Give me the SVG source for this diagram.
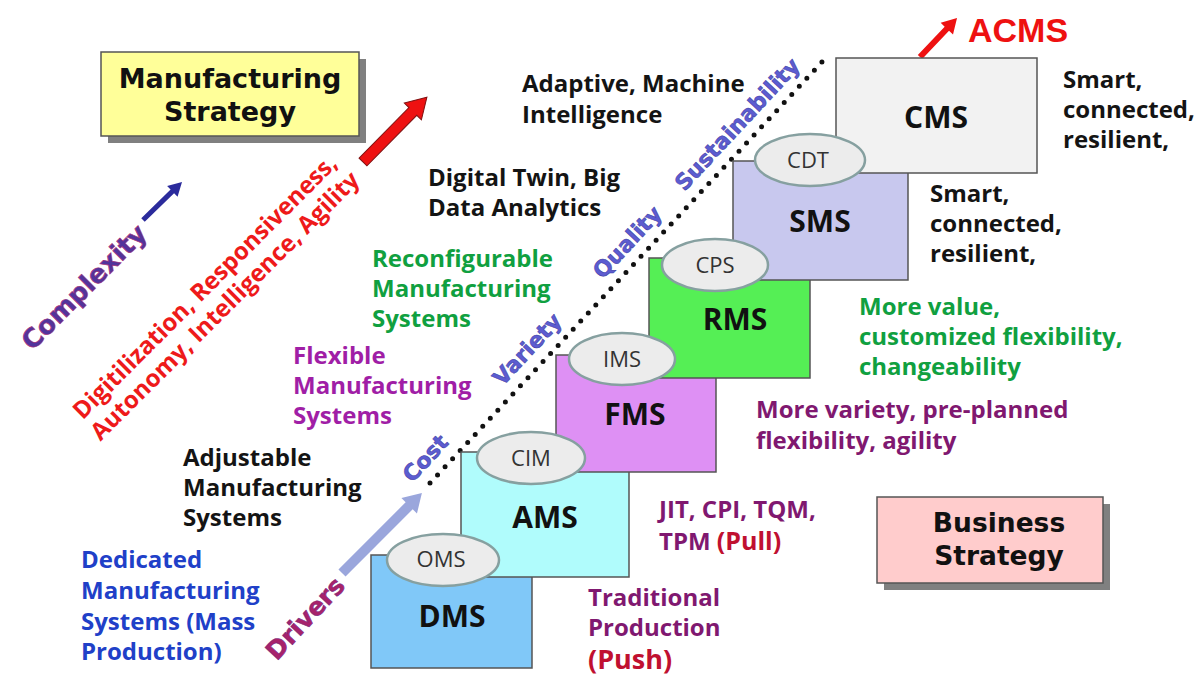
<svg xmlns="http://www.w3.org/2000/svg" width="1202" height="677" viewBox="0 0 1202 677">
<style>
.t{font-family:'Open Sans','Liberation Sans',sans-serif;font-weight:700;font-size:24px}
.box{stroke:#555;stroke-width:1.5}
.ell{fill:#ececec;stroke:#86a0a0;stroke-width:2.5}
.et{font-family:'Open Sans','Liberation Sans',sans-serif;font-size:22px;fill:#333;text-anchor:middle}
.bl{font-family:'Open Sans','Liberation Sans',sans-serif;font-weight:700;font-size:30px;fill:#111;text-anchor:middle}
.st{font-family:'DejaVu Sans',sans-serif;font-weight:700;font-size:27px;fill:#111;text-anchor:middle}
.dg{font-family:'DejaVu Sans',sans-serif;font-weight:700;font-size:22px;fill:#5c5cd0;stroke:#3a3aa0;stroke-width:0.5;text-anchor:middle}
.rt{font-family:'Open Sans','Liberation Sans',sans-serif;font-weight:700;font-size:24px;fill:#ee1a1a;text-anchor:middle}
.blk{fill:#141414}
.grn{fill:#10a040}
.prp{fill:#a01ea6}
.dpr{fill:#801870}
.blu{fill:#2040c8}
.red{fill:#c01030}
</style>
<rect width="1202" height="677" fill="#fff"/>

<g id="connectors">
<path d="M430,483 L822,62" fill="none" stroke="#111" stroke-width="5" stroke-linecap="round" stroke-dasharray="0 11.06"/>
<polygon transform="translate(363,162) rotate(-45.4)" points="0,-5.5 71,-5.5 71,-12 91,0 71,12 71,5.5 0,5.5" fill="#ee1111" stroke="#801010" stroke-width="1"/>
<polygon transform="translate(143,220) rotate(-44.3)" points="0,-2.5 41,-2.5 41,-7.5 54.5,0 41,7.5 41,2.5 0,2.5" fill="#2b2b9c"/>
<polygon transform="translate(920,57) rotate(-46.5)" points="0,-3 39,-3 39,-8.5 53.8,0 39,8.5 39,3 0,3" fill="#ee1111"/>
<polygon transform="translate(342,573) rotate(-45)" points="0,-5 95,-5 95,-11 113,0 95,11 95,5 0,5" fill="#9aa6dc"/>
</g>

<g id="manufacturing-strategy">
<rect x="108" y="59" width="258" height="84" fill="#808080"/>
<rect x="101" y="52" width="258" height="84" fill="#ffff99" class="box"/>
<text class="st" x="230" y="88">Manufacturing</text>
<text class="st" x="230" y="121">Strategy</text>
</g>

<g id="business-strategy">
<rect x="884" y="504" width="226" height="86" fill="#808080"/>
<rect x="877" y="497" width="226" height="86" fill="#ffcccc" class="box"/>
<text class="st" style="font-size:26.5px" x="999" y="532">Business</text>
<text class="st" style="font-size:26.5px" x="999" y="565">Strategy</text>
</g>

<g id="dms"><rect x="371" y="555" width="161" height="113" fill="#80c8f8" class="box"/><text class="bl" x="452" y="627">DMS</text></g>
<g id="ams"><rect x="461" y="452" width="168" height="125" fill="#b0fcfc" class="box"/><text class="bl" x="545" y="528">AMS</text></g>
<g id="fms"><rect x="556" y="355" width="160" height="117" fill="#de90f4" class="box"/><text class="bl" x="635" y="425">FMS</text></g>
<g id="rms"><rect x="649" y="258" width="161" height="120" fill="#55ef55" class="box"/><text class="bl" x="735" y="330">RMS</text></g>
<g id="sms"><rect x="733" y="161" width="175" height="119" fill="#c8c8ee" class="box"/><text class="bl" x="820" y="232">SMS</text></g>
<g id="cms"><rect x="836" y="58" width="201" height="115" fill="#f2f2f2" class="box"/><text class="bl" x="936" y="128">CMS</text></g>

<g id="oms"><ellipse class="ell" cx="443" cy="560" rx="56" ry="26"/><text class="et" x="441" y="567">OMS</text></g>
<g id="cim"><ellipse class="ell" cx="531" cy="458" rx="54" ry="26"/><text class="et" x="531" y="466">CIM</text></g>
<g id="ims"><ellipse class="ell" cx="622" cy="359" rx="53" ry="26"/><text class="et" x="622" y="367">IMS</text></g>
<g id="cps"><ellipse class="ell" cx="715" cy="265" rx="53" ry="26"/><text class="et" x="715" y="273">CPS</text></g>
<g id="cdt"><ellipse class="ell" cx="810" cy="160" rx="55" ry="26"/><text class="et" x="808" y="168">CDT</text></g>

<g id="acms"><text x="968" y="42" style="font-family:'Liberation Sans',sans-serif;font-weight:700;font-size:34px;fill:#ee1111">ACMS</text></g>

<g id="labels">
<text class="t blk" x="522" y="92">Adaptive, Machine</text>
<text class="t blk" x="522" y="123">Intelligence</text>
<text class="t blk" x="428" y="186">Digital Twin, Big</text>
<text class="t blk" x="428" y="216">Data Analytics</text>
<text class="t grn" x="372" y="267">Reconfigurable</text>
<text class="t grn" x="372" y="297">Manufacturing</text>
<text class="t grn" x="372" y="327">Systems</text>
<text class="t prp" x="293" y="364">Flexible</text>
<text class="t prp" x="293" y="394">Manufacturing</text>
<text class="t prp" x="293" y="424">Systems</text>
<text class="t blk" x="183" y="466">Adjustable</text>
<text class="t blk" x="183" y="496">Manufacturing</text>
<text class="t blk" x="183" y="526">Systems</text>
<text class="t blu" x="81" y="568">Dedicated</text>
<text class="t blu" x="81" y="599">Manufacturing</text>
<text class="t blu" x="81" y="630">Systems (Mass</text>
<text class="t blu" x="81" y="660">Production)</text>
<text class="t dpr" x="588" y="606">Traditional</text>
<text class="t dpr" x="588" y="636">Production</text>
<text class="t red" x="588" y="669" style="font-size:27px">(Push)</text>
<text class="t dpr" x="659" y="518">JIT, CPI, TQM,</text>
<text class="t dpr" x="659" y="550">TPM <tspan class="red" style="font-size:25px">(Pull)</tspan></text>
<text class="t dpr" x="756" y="418">More variety, pre-planned</text>
<text class="t dpr" x="756" y="449">flexibility, agility</text>
<text class="t grn" x="859" y="315">More value,</text>
<text class="t grn" x="859" y="345">customized flexibility,</text>
<text class="t grn" x="859" y="375">changeability</text>
<text class="t blk" x="930" y="202">Smart,</text>
<text class="t blk" x="930" y="232">connected,</text>
<text class="t blk" x="930" y="262">resilient,</text>
<text class="t blk" x="1063" y="88">Smart,</text>
<text class="t blk" x="1063" y="118">connected,</text>
<text class="t blk" x="1063" y="148">resilient,</text>
</g>

<g id="rotated-labels">
<text transform="translate(84,287) rotate(-45)" x="0" y="9" style="font-family:'DejaVu Sans',sans-serif;font-weight:700;font-size:26px;fill:#52349c;stroke:#a0307a;stroke-width:0.7;text-anchor:middle">Complexity</text>
<text class="rt" transform="translate(205,287) rotate(-45)" x="0" y="8">Digitilization, Responsiveness,</text>
<text class="rt" transform="translate(225,306) rotate(-45)" x="0" y="8">Autonomy, Intelligence, Agility</text>
<text transform="translate(305,618) rotate(-47)" x="0" y="9" style="font-family:'DejaVu Sans',sans-serif;font-weight:700;font-size:25px;fill:#a8226a;stroke:#7a2a80;stroke-width:0.6;text-anchor:middle">Drivers</text>
<text class="dg" transform="translate(425,458) rotate(-47)" x="0" y="8">Cost</text>
<text class="dg" transform="translate(527,349) rotate(-47)" x="0" y="8">Variety</text>
<text class="dg" transform="translate(627,242) rotate(-47)" x="0" y="8">Quality</text>
<text class="dg" transform="translate(737,124) rotate(-47)" x="0" y="8">Sustainability</text>
</g>
</svg>
